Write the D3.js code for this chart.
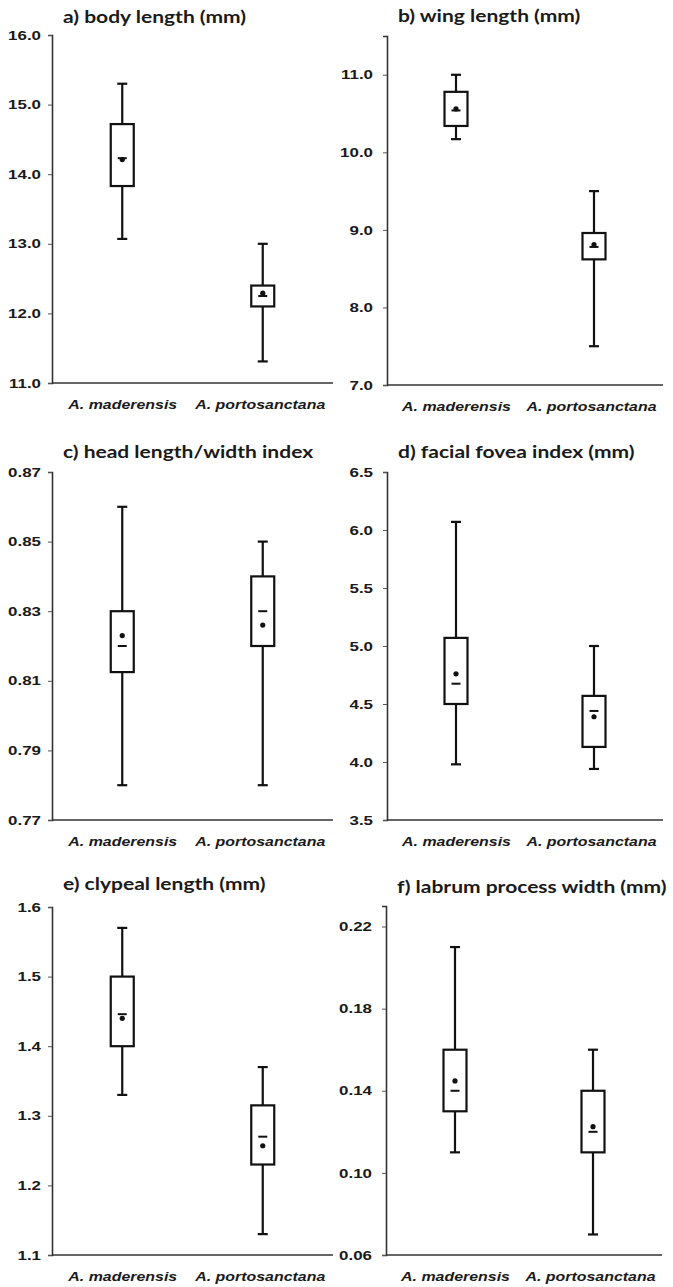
<!DOCTYPE html>
<html><head><meta charset="utf-8">
<script src="https://cdn.jsdelivr.net/npm/d3@7"></script>
<style>html,body{margin:0;padding:0;background:#fff;}svg{display:block;}</style>
</head><body>
<svg id="c" width="673" height="1287"></svg>
<script>
// ---- data ----
const species = ["A. maderensis", "A. portosanctana"];
const titles = ["a) body length (mm)", "b) wing length (mm)", "c) head length/width index",
  "d) facial fovea index (mm)", "e) clypeal length (mm)", "f) labrum process width (mm)"];
const yDomains = [[11, 16], [7, 11.5], [0.77, 0.87], [3.5, 6.5], [1.1, 1.6], [0.06, 0.23]];
const yTicks = [[11, 12, 13, 14, 15, 16], [7, 8, 9, 10, 11], [0.77, 0.79, 0.81, 0.83, 0.85, 0.87],
  [3.5, 4, 4.5, 5, 5.5, 6, 6.5], [1.1, 1.2, 1.3, 1.4, 1.5, 1.6], [0.06, 0.10, 0.14, 0.18, 0.22]];
const tickFormats = [".1f", ".1f", ".2f", ".1f", ".1f", ".2f"];
// per panel: [maderensis, portosanctana]
const whiskerMax = [[15.3, 13.0], [11.0, 9.5], [0.86, 0.85], [6.07, 5.0], [1.57, 1.37], [0.21, 0.16]];
const quart3 = [[14.72, 12.4], [10.78, 8.96], [0.83, 0.84], [5.07, 4.57], [1.5, 1.315], [0.16, 0.14]];
const medians = [[14.23, 12.25], [10.54, 8.78], [0.82, 0.83], [4.675, 4.44], [1.446, 1.27], [0.14, 0.12]];
const means = [[14.21, 12.29], [10.56, 8.81], [0.823, 0.826], [4.76, 4.39], [1.44, 1.257], [0.1448, 0.1225]];
const quart1 = [[13.83, 12.1], [10.34, 8.62], [0.8125, 0.82], [4.5, 4.13], [1.4, 1.23], [0.13, 0.11]];
const whiskerMin = [[13.07, 11.31], [10.17, 7.5], [0.78, 0.78], [3.98, 3.94], [1.33, 1.13], [0.11, 0.07]];

// ---- layout ----
const panels = [
  {x0: 52, x1: 333, yTop: 35, yBot: 383, tY: 12},
  {x0: 387, x1: 663, yTop: 36, yBot: 385, tY: 14},
  {x0: 52, x1: 333, yTop: 472, yBot: 820, tY: 14},
  {x0: 387, x1: 663, yTop: 472, yBot: 820, tY: 14},
  {x0: 52, x1: 333, yTop: 907, yBot: 1255, tY: 17},
  {x0: 386, x1: 662, yTop: 906, yBot: 1255, tY: 13}
];
const svg = d3.select("#c");
const ink = "#111";

function stretch(sel, k) {
  sel.each(function () {
    const w = this.getComputedTextLength();
    d3.select(this).attr("textLength", w * k).attr("lengthAdjust", "spacingAndGlyphs");
  });
}

panels.forEach((p, i) => {
  const g = svg.append("g");
  const y = d3.scaleLinear().domain(yDomains[i]).range([p.yBot, p.yTop]);
  const x = d3.scalePoint().domain(species).range([p.x0, p.x1]).padding(0.5);

  // y axis
  const ya = g.append("g").attr("transform", `translate(${p.x0},0)`)
    .call(d3.axisLeft(y).tickValues(yTicks[i]).tickFormat(d3.format(tickFormats[i])).tickSize(4).tickPadding(i % 2 ? 10 : 7));
  ya.select(".domain").attr("stroke", "#333").attr("stroke-width", 1.6);
  ya.selectAll(".tick line").attr("stroke", "#555").attr("stroke-width", 1);
  ya.selectAll("text").attr("font-family", "Liberation Sans, Arial, sans-serif").attr("font-weight", "bold")
    .attr("font-size", 13).attr("fill", "#1a1a1a").call(stretch, 1.3);

  // x axis (baseline only + labels)
  const xa = g.append("g").attr("transform", `translate(0,${p.yBot})`)
    .call(d3.axisBottom(x).tickSize(0).tickPadding(16));
  xa.select(".domain").attr("d", `M${p.x0},0H${p.x1}`).attr("stroke", "#333").attr("stroke-width", 1.6);
  xa.selectAll("text").attr("font-family", "Liberation Sans, Arial, sans-serif").attr("font-weight", "bold")
    .attr("font-style", "italic").attr("font-size", 13.5).attr("fill", "#1a1a1a").call(stretch, 1.18);
  xa.selectAll(".tick").filter((d, j) => j === 1).select("text").attr("dx", -3);

  // title
  g.append("text").attr("x", p.x0 + 11).attr("y", p.yTop - p.tY)
    .attr("font-family", "Lato, Open Sans, sans-serif").attr("font-weight", "bold").attr("font-size", 17.5)
    .attr("fill", "#1a1a1a").text(titles[i]).call(stretch, 1.2);

  const bw = 23, cw = 10;
  const rows = species.map((s, j) => ({
    s, lo: whiskerMin[i][j], q1: quart1[i][j], med: medians[i][j], mean: means[i][j],
    q3: quart3[i][j], hi: whiskerMax[i][j]
  }));
  const bx = g.selectAll("g.box").data(rows).join("g").attr("class", "box");
  // whiskers
  bx.append("line").attr("x1", d => x(d.s)).attr("x2", d => x(d.s))
    .attr("y1", d => y(d.hi)).attr("y2", d => y(d.q3)).attr("stroke", ink).attr("stroke-width", 2.2);
  bx.append("line").attr("x1", d => x(d.s)).attr("x2", d => x(d.s))
    .attr("y1", d => y(d.q1)).attr("y2", d => y(d.lo)).attr("stroke", ink).attr("stroke-width", 2.2);
  // caps
  bx.append("line").attr("x1", d => x(d.s) - cw / 2).attr("x2", d => x(d.s) + cw / 2)
    .attr("y1", d => y(d.hi)).attr("y2", d => y(d.hi)).attr("stroke", ink).attr("stroke-width", 2.2);
  bx.append("line").attr("x1", d => x(d.s) - cw / 2).attr("x2", d => x(d.s) + cw / 2)
    .attr("y1", d => y(d.lo)).attr("y2", d => y(d.lo)).attr("stroke", ink).attr("stroke-width", 2.2);
  // box
  bx.append("rect").attr("x", d => x(d.s) - bw / 2).attr("width", bw)
    .attr("y", d => y(d.q3)).attr("height", d => y(d.q1) - y(d.q3))
    .attr("fill", "#fff").attr("stroke", ink).attr("stroke-width", 2.2);
  // median dash
  bx.append("line").attr("x1", d => x(d.s) - 4.5).attr("x2", d => x(d.s) + 4.5)
    .attr("y1", d => y(d.med)).attr("y2", d => y(d.med)).attr("stroke", ink).attr("stroke-width", 2);
  // mean dot
  bx.append("circle").attr("cx", d => x(d.s)).attr("cy", d => y(d.mean)).attr("r", 2.6).attr("fill", ink);
});
</script>
</body></html>
